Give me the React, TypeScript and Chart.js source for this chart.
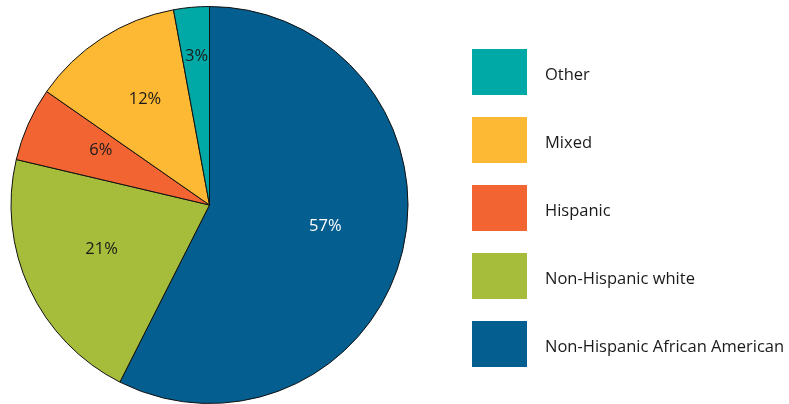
import React, { useEffect, useRef } from "react";
import { Chart, registerables } from "chart.js";

Chart.register(...registerables);

const categories = [
  "Non-Hispanic African American",
  "Non-Hispanic white",
  "Hispanic",
  "Mixed",
  "Other",
];
const shares = [57.4, 21.2, 6.0, 12.4, 2.9];
const valueLabels = ["57%", "21%", "6%", "12%", "3%"];
const colors = ["#045E8F", "#A5BD3A", "#F26532", "#FDB933", "#00A9A5"];
const labelColors = ["#ffffff", "#1a1a1a", "#1a1a1a", "#1a1a1a", "#1a1a1a"];

const FONT = "'Open Sans', 'Noto Sans', sans-serif";

const sliceLabelPlugin = {
  id: "sliceLabels",
  afterDatasetsDraw(chart: any) {
    const ctx = chart.ctx;
    const meta = chart.getDatasetMeta(0);
    ctx.save();
    ctx.font = `16.5px ${FONT}`;
    ctx.textAlign = "center";
    ctx.textBaseline = "middle";
    meta.data.forEach((arc: any, i: number) => {
      const { x, y, startAngle, endAngle, outerRadius } = arc.getProps(
        ["x", "y", "startAngle", "endAngle", "outerRadius"],
        true
      );
      const mid = (startAngle + endAngle) / 2;
      const frac = shares[i] < 5 ? 0.72 : 0.6;
      const r = outerRadius * frac;
      ctx.fillStyle = labelColors[i];
      ctx.fillText(valueLabels[i], x + Math.cos(mid) * r, y + Math.sin(mid) * r - 6);
    });
    ctx.restore();
  },
};

const legendPlugin = {
  id: "sideLegend",
  afterDraw(chart: any) {
    const ctx = chart.ctx;
    const labels = chart.data.labels as string[];
    const bg = chart.data.datasets[0].backgroundColor as string[];
    ctx.save();
    ctx.font = `16.5px ${FONT}`;
    ctx.textAlign = "left";
    ctx.textBaseline = "middle";
    const order = labels.map((_, i) => i).reverse();
    order.forEach((idx, row) => {
      const top = 49 + row * 68;
      ctx.fillStyle = bg[idx];
      ctx.fillRect(472, top, 55, 46);
      ctx.fillStyle = "#1a1a1a";
      ctx.fillText(labels[idx], 545, top + 26);
    });
    ctx.restore();
  },
};

export default function App() {
  const ref = useRef<HTMLCanvasElement | null>(null);
  useEffect(() => {
    document.body.style.margin = "0";
    const chart = new Chart(ref.current as HTMLCanvasElement, {
      type: "pie",
      data: {
        labels: categories,
        datasets: [
          {
            data: shares,
            backgroundColor: colors,
            borderColor: "#111111",
            borderWidth: 1,
            hoverOffset: 0,
          },
        ],
      },
      options: {
        animation: false,
        responsive: false,
        maintainAspectRatio: false,
        layout: { padding: { left: 10, top: 6, right: 380, bottom: 0 } },
        plugins: {
          legend: { display: false },
          tooltip: { enabled: false },
        },
      },
      plugins: [sliceLabelPlugin, legendPlugin],
    });
    return () => chart.destroy();
  }, []);
  return (
    <div style={{ width: 789, height: 404, background: "#fff" }}>
      <canvas ref={ref} width={789} height={404} />
    </div>
  );
}
